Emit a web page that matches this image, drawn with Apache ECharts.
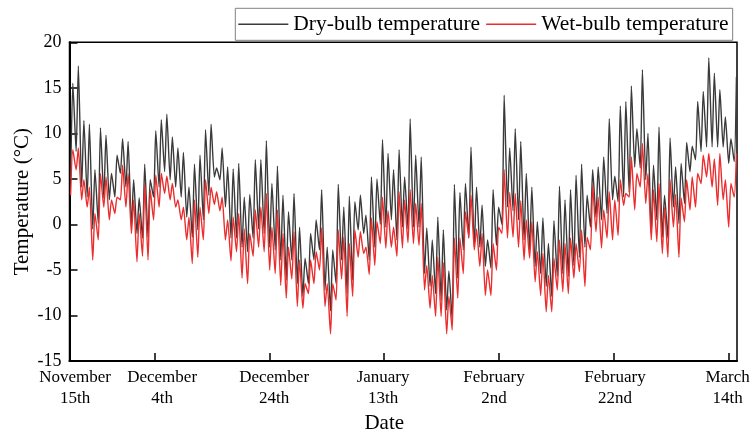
<!DOCTYPE html>
<html>
<head>
<meta charset="utf-8">
<script src="https://cdn.jsdelivr.net/npm/echarts@6/dist/echarts.min.js"></script>
<style>html,body{margin:0;padding:0;background:#fff}#c{width:752px;height:436px}</style>
</head>
<body>
<div id="c"></div>
<script>
// Daily peaks (afternoon maxima) and troughs (morning minima), one entry per day, °C
const dryMax = [
  15.5, 17.4, 11.4, 11.0, 6.0, 10.6, 9.8, 5.6, 7.6, 9.4,
  9.1, 4.9, 2.9, 6.6, 4.9, 10.3, 11.5, 12.1, 9.6, 8.4,
  7.9, 4.1, 6.6, 7.6, 10.4, 11.0, 6.2, 8.4, 6.3, 6.1,
  6.7, 3.0, 3.3, 7.1, 7.1, 9.2, 4.5, 6.4, 3.2, 1.4,
  3.4, -0.3, -3.7, -1.0, 0.5, 3.8, -2.5, -2.8, 4.4, 1.9,
  3.1, 2.5, 3.2, 1.0, 5.2, 5.0, 9.3, 7.8, 6.0, 8.2,
  5.2, 11.6, 7.6, 7.4, -0.4, -1.7, 0.8, -0.6, -5.1, 4.4,
  3.5, 4.5, 8.5, 4.1, 2.1, -1.7, 3.8, 1.9, 14.2, 8.4,
  10.5, 9.1, 5.6, 4.1, 0.3, 0.7, -2.1, 0.4, 4.2, 2.7,
  3.8, 5.4, 6.6, 3.2, 6.0, 6.3, 7.4, 11.6, 5.3, 13.0,
  13.5, 15.2, 10.5, 17.0, 10.0, 6.5, 10.7, 3.2, 9.5, 6.3,
  6.7, 9.0, 8.6, 13.5, 14.6, 18.3, 16.6, 14.8, 11.8, 9.4, 16.2
];
const dryMin = [
  5.0, 8.0, 4.1, 3.0, -0.5, 0.1, 2.9, 2.7, 3.0, 5.6,
  4.1, -0.2, -1.0, -1.5, -1.4, 3.0, 4.1, 5.8, 4.9, 4.1,
  3.0, 0.8, -1.4, -0.6, 0.5, 3.2, 5.2, 4.9, 1.9, -1.5,
  -1.5, -2.5, -3.0, -1.5, -0.5, -1.0, -2.5, -2.8, -3.9, -6.1,
  -3.9, -6.5, -7.9, -6.5, -3.9, -2.8, -7.2, -9.5, -6.5, -3.9,
  -7.6, -6.1, -0.6, -1.0, -3.9, -2.5, 0.0, -0.3, 0.5, -1.7,
  -0.3, -0.5, -0.3, -0.3, -5.4, -6.8, -7.6, -8.3, -9.4, -10.5,
  -5.9, -2.8, -1.5, -2.5, -2.5, -4.6, -4.8, -2.3, 0.0, 1.9,
  1.5, 0.5, -1.7, -2.8, -4.6, -5.4, -6.8, -7.9, -5.7, -5.4,
  -5.7, -4.5, -3.6, -2.5, -0.3, 0.8, 0.5, 1.2, 2.7, 2.5,
  3.0, 3.5, 6.3, 6.2, 4.9, -1.0, 0.5, -1.4, -1.5, 1.9,
  0.1, 2.3, 5.8, 7.1, 8.0, 8.5, 8.5, 8.5, 8.5, 6.7, 6.9
];
const wetMax = [
  8.2, 8.4, 4.9, 4.1, 1.2, 5.6, 5.2, 2.7, 3.0, 6.5,
  5.6, 2.7, 1.2, 4.5, 3.8, 5.4, 5.6, 5.3, 4.5, 2.7,
  1.9, 0.8, 2.7, 1.9, 4.9, 4.1, 3.6, 3.0, 0.5, 0.8,
  1.2, -0.5, -1.0, 1.6, 1.9, 3.4, -0.3, 1.6, -1.0, -2.5,
  -0.8, -3.9, -6.5, -3.9, -3.0, -0.4, -6.5, -6.5, -0.6, -1.4,
  -2.1, -0.6, -0.8, -2.5, 0.7, 0.3, 3.0, 1.5, -0.3, 3.6,
  2.7, 3.8, 2.3, 2.3, -4.5, -5.6, -3.6, -4.2, -7.9, -1.5,
  -1.5, 1.4, 3.2, -0.5, -1.0, -5.0, -2.1, -0.3, 6.0, 3.5,
  3.4, 2.6, 0.5, 0.3, -3.0, -3.2, -5.6, -3.7, -1.7, -2.1,
  -1.5, -2.1, -0.6, -1.4, 4.3, 3.0, 1.6, 3.6, 2.7, 4.9,
  3.4, 7.4, 5.6, 8.9, 5.6, 3.8, 4.5, 1.9, 4.9, 3.3,
  2.9, 4.9, 5.2, 5.6, 7.6, 7.8, 7.2, 7.8, 4.9, 4.5, 7.8
];
const wetMin = [
  3.2, 6.0, 2.7, 1.9, -3.9, -1.7, 1.9, 0.5, 1.2, 2.7,
  1.9, -1.0, -4.1, -3.5, -3.9, 0.5, 1.9, 3.4, 2.7, 1.9,
  0.5, -1.7, -4.3, -3.6, -1.7, 1.2, 2.2, 1.5, -1.7, -4.0,
  -3.0, -5.9, -6.5, -3.5, -2.5, -3.0, -5.0, -5.4, -6.7, -8.1,
  -6.0, -9.0, -9.2, -7.6, -6.5, -5.0, -9.0, -12.0, -8.3, -6.0,
  -10.1, -7.9, -3.6, -3.2, -5.5, -4.5, -2.1, -2.6, -2.5, -3.5,
  -2.6, -2.0, -2.1, -2.3, -7.2, -9.2, -10.1, -10.1, -12.0, -11.6,
  -8.1, -5.4, -1.4, -2.8, -4.6, -7.8, -7.8, -5.0, -1.0, -1.5,
  -1.4, -2.5, -3.9, -3.7, -6.3, -7.8, -9.6, -9.6, -7.2, -7.4,
  -7.6, -5.9, -5.2, -6.8, -2.8, -0.8, -2.6, -1.5, -1.7, -1.2,
  2.1, 3.0, 1.6, 4.1, 2.3, -1.7, -1.9, -3.2, -3.6, -0.3,
  -3.6, 0.3, 1.6, 1.9, 4.5, 5.2, 4.1, 2.1, 2.7, -0.3, 3.0
];
// Date axis: tick positions and label positions (days since Nov 15)
const tickDays = [15.36, 36.13, 56.89, 77.66, 98.43, 119.2];
const labelDays = [1.02, 16.75, 37.0, 56.7, 76.76, 98.63, 119.0];
const tickLabels = ['November\n15th', 'December\n4th', 'December\n24th', 'January\n13th', 'February\n2nd', 'February\n22nd', 'March\n14th'];
const seriesNames = ['Dry-bulb temperature', 'Wet-bulb temperature'];

function build(minArr, maxArr) {
  const out = [];
  for (let j = 0; j < minArr.length; j++) {
    out.push([j + 0.2, minArr[j]]);
    out.push([j + 0.6, maxArr[j]]);
  }
  return out;
}

const FONT = "'Liberation Serif', 'Times New Roman', serif";
const DRY = '#3a3a3a', WET = '#ec2d2d';
const chart = echarts.init(document.getElementById('c'), null, { renderer: 'canvas' });
chart.setOption({
  animation: false,
  backgroundColor: '#fff',
  grid: {
    left: 69.5, right: 15, top: 42.3, bottom: 75, outerBoundsMode: 'none', containLabel: false,
    show: true, borderColor: '#000', borderWidth: 1.5, backgroundColor: 'transparent'
  },
  legend: {
    left: 235.3, top: 8.3, orient: 'horizontal',
    icon: 'rect', itemWidth: 50, itemHeight: 1.5, itemGap: 6,
    padding: [5, 4, 5, 3],
    borderColor: '#808080', borderWidth: 1,
    textStyle: { fontSize: 21.5, fontFamily: FONT, color: '#000' },
    data: seriesNames
  },
  xAxis: {
    type: 'value', min: 0, max: 120.7,
    splitLine: { show: false },
    axisLine: { onZero: false, lineStyle: { color: '#000', width: 2 } },
    axisTick: { inside: true, length: 8, customValues: tickDays, lineStyle: { color: '#000', width: 1.5 } },
    axisLabel: {
      customValues: labelDays, margin: 6, fontSize: 17, lineHeight: 21, fontFamily: FONT, color: '#000',
      formatter: function (v) {
        let best = 0, bd = 1e9;
        labelDays.forEach(function (p, i) { const d = Math.abs(p - v); if (d < bd) { bd = d; best = i; } });
        return tickLabels[best];
      }
    },
    name: 'Date', nameLocation: 'middle', nameGap: 52, nameMoveOverlap: false,
    nameTextStyle: { fontSize: 21, fontFamily: FONT, color: '#000', padding: [0, 38, 0, 0] }
  },
  yAxis: {
    type: 'value', min: -15, max: 20, interval: 5,
    splitLine: { show: false },
    axisLine: { onZero: false, lineStyle: { color: '#000', width: 2 } },
    axisTick: { inside: true, length: 8, lineStyle: { color: '#000', width: 1.5 } },
    axisLabel: { margin: 8, fontSize: 18, fontFamily: FONT, color: '#000' },
    name: 'Temperature (°C)', nameLocation: 'middle', nameGap: 37, nameMoveOverlap: false,
    nameTextStyle: { fontSize: 21, fontFamily: FONT, color: '#000' }
  },
  series: [
    {
      name: seriesNames[0], type: 'line', data: build(dryMin, dryMax),
      symbol: 'none', smooth: 0.2,
      lineStyle: { color: DRY, width: 1.4 }, itemStyle: { color: DRY }
    },
    {
      name: seriesNames[1], type: 'line', data: build(wetMin, wetMax),
      symbol: 'none', smooth: 0.2,
      lineStyle: { color: WET, width: 1.4 }, itemStyle: { color: WET }
    }
  ]
});
</script>
</body>
</html>
